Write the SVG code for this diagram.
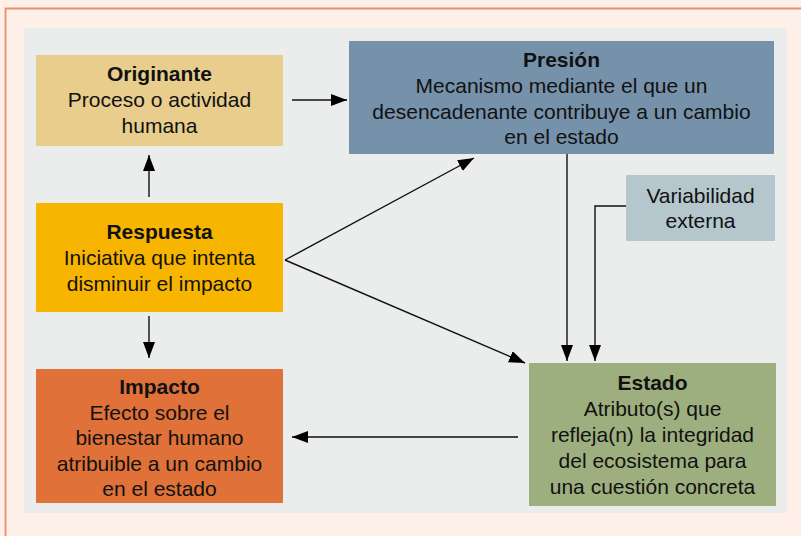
<svg xmlns="http://www.w3.org/2000/svg" width="801" height="536" viewBox="0 0 801 536">
<defs>
<style>
text{font-family:"Liberation Sans",Arial,sans-serif;font-size:21px;fill:#111;text-anchor:middle}
.b{font-weight:bold}
.c{fill:none;stroke:#111;stroke-width:1.4}
.g{fill:none;stroke:#444;stroke-width:2.2}
</style>
<marker id="ah" markerUnits="userSpaceOnUse" markerWidth="17" markerHeight="13" refX="16" refY="6" orient="auto">
<path d="M0,0 L16,6 L0,12 z" fill="#000"/>
</marker>
</defs>
<rect x="0" y="0" width="801" height="536" fill="#FEF0E8"/>
<path d="M5.5,540 V8.5 H805" fill="none" stroke="#E8926A" stroke-width="1.8"/>
<rect x="24" y="28" width="763" height="485" fill="#EBEDEC"/>

<g id="originante">
<rect x="36" y="55" width="247" height="91" fill="#E8CD8C"/>
<text x="159.5" y="81" class="b">Originante</text>
<text x="159.5" y="107">Proceso o actividad</text>
<text x="159.5" y="133">humana</text>
</g>
<g id="presion">
<rect x="349" y="41" width="425" height="113" fill="#7692AB"/>
<text x="561.5" y="67" class="b">Presión</text>
<text x="561.5" y="93">Mecanismo mediante el que un</text>
<text x="561.5" y="119">desencadenante contribuye a un cambio</text>
<text x="561.5" y="144">en el estado</text>
</g>
<g id="variabilidad">
<rect x="626" y="175" width="149" height="66" fill="#B5C6CC"/>
<text x="700.5" y="203">Variabilidad</text>
<text x="700.5" y="228">externa</text>
</g>
<g id="respuesta">
<rect x="36" y="203" width="247" height="109" fill="#F8B500"/>
<text x="159.5" y="239" class="b">Respuesta</text>
<text x="159.5" y="265">Iniciativa que intenta</text>
<text x="159.5" y="291">disminuir el impacto</text>
</g>
<g id="impacto">
<rect x="36" y="369" width="247" height="134" fill="#E07139"/>
<text x="159.5" y="394" class="b">Impacto</text>
<text x="159.5" y="419.5">Efecto sobre el</text>
<text x="159.5" y="445">bienestar humano</text>
<text x="159.5" y="470.5">atribuible a un cambio</text>
<text x="159.5" y="496">en el estado</text>
</g>
<g id="estado">
<rect x="529" y="363" width="247" height="143" fill="#9DAF7E"/>
<text x="652.5" y="390" class="b">Estado</text>
<text x="652.5" y="416">Atributo(s) que</text>
<text x="652.5" y="442">refleja(n) la integridad</text>
<text x="652.5" y="468">del ecosistema para</text>
<text x="652.5" y="494">una cuestión concreta</text>
</g>

<g id="connectors">
<path class="c" d="M292,100 L347,100" marker-end="url(#ah)"/>
<path class="c" d="M149,197 L149,155" marker-end="url(#ah)"/>
<path class="c" d="M149,316 L149,358" marker-end="url(#ah)"/>
<path class="c" d="M285,260 L474,158" marker-end="url(#ah)"/>
<path class="c" d="M285,260 L525,363" marker-end="url(#ah)"/>
<path class="c" d="M567,154 L567,361" marker-end="url(#ah)"/>
<path class="c" d="M626,206 L595,206 L595,361" marker-end="url(#ah)"/>
<path class="g" d="M518,437 L292,437" marker-end="url(#ah)"/>
</g>
</svg>
